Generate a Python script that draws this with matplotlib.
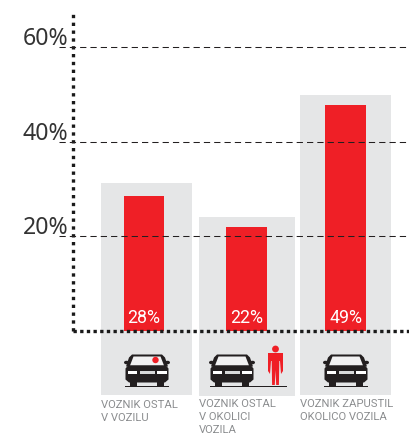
import matplotlib
matplotlib.use("Agg")
import matplotlib.pyplot as plt
from matplotlib.patches import Polygon, Rectangle, Circle, Ellipse

W, H = 409, 436

# values
categories = ["VOZNIK OSTAL\nV VOZILU", "VOZNIK OSTAL\nV OKOLICI\nVOZILA", "VOZNIK ZAPUSTIL\nOKOLICO VOZILA"]
bar_heights = [28.5, 22.0, 47.8]
bar_labels = ["28%", "22%", "49%"]
tick_values = [20, 40, 60]
tick_labels = ["20%", "40%", "60%"]

# pixel layout
bar_centers = [144, 246.5, 345.5]
bar_widths = [40, 41, 41]
panel_x = [(101, 192), (199, 295), (300, 391)]
panel_y = [(183, 395), (217, 396), (95, 395)]
label_x = [101, 199, 300]
label_y = [400, 399, 399]
car_x = [147, 232, 346]

RED = "#ef1f26"
GREY = "#e5e6e7"
DARK = "#231f20"
TEXT = "#8b8d8f"
PX_PER_PCT = 4.73


def draw_car(ax, cx, gy):
    # car icon, offsets in pixels from the ground point
    def poly(pts, color):
        ax.add_patch(Polygon([(cx + x, gy + y) for x, y in pts], closed=True, color=color, lw=0))

    def rect(x0, y0, x1, y1, color):
        ax.add_patch(Rectangle((cx + x0, gy + y0), x1 - x0, y1 - y0, color=color, lw=0))

    poly([(-15, -32), (15, -32), (18, -29), (21, -20), (-21, -20), (-18, -29)], DARK)
    poly([(-13.5, -30), (13.5, -30), (17, -21), (-17, -21)], "#f1f1f2")
    ax.add_patch(Ellipse((cx - 20.5, gy - 24), 5, 3.5, color=DARK, lw=0))
    ax.add_patch(Ellipse((cx + 20.5, gy - 24), 5, 3.5, color=DARK, lw=0))
    poly([(-19, -21), (19, -21), (21.5, -18), (21.5, -7), (18, -4), (-18, -4), (-21.5, -7), (-21.5, -18)], DARK)
    rect(-19.5, -15.5, -10, -12.5, "white")
    rect(10, -15.5, 19.5, -12.5, "white")
    rect(-7.5, -15.5, 7.5, -12.5, "#d8d9da")
    rect(-4, -14, 4, -13.2, DARK)
    rect(-17, -5, -10, 0, DARK)
    rect(10, -5, 17, 0, DARK)


def draw_person(ax, cx, gy):
    ax.add_patch(Circle((cx, gy - 37), 3.4, color=RED, lw=0))
    body = [(-7.5, -33), (7.5, -33), (7.5, -15), (5.5, -12), (4.5, -25), (3.8, -25), (3.4, -1), (0.7, -1),
            (0, -16), (-0.7, -1), (-3.4, -1), (-3.8, -25), (-4.5, -25), (-5.5, -12), (-7.5, -15)]
    ax.add_patch(Polygon([(cx + x, gy + y) for x, y in body], closed=True, color=RED, lw=0))


fig = plt.figure(figsize=(W / 100, H / 100), dpi=100)

# pixel overlay for the grey panels, icons and category labels
px = fig.add_axes([0, 0, 1, 1], zorder=1)
px.set_xlim(0, W)
px.set_ylim(H, 0)
px.axis("off")

for (x0, x1), (y0, y1) in zip(panel_x, panel_y):
    px.add_patch(Rectangle((x0, y0), x1 - x0, y1 - y0, color=GREY, lw=0))

for cat, x, y in zip(categories, label_x, label_y):
    px.text(x, y, cat, fontsize=8.1, family="Roboto", color=TEXT, ha="left", va="top", linespacing=1.36)

for cx in car_x:
    draw_car(px, cx, 386.5)
px.add_patch(Circle((155.5, 360), 3.2, color=RED, lw=0))
px.add_patch(Rectangle((125, 385.5), 44, 1.5, color=DARK, lw=0))
px.add_patch(Rectangle((210, 385.5), 77, 1.5, color=DARK, lw=0))
px.add_patch(Rectangle((324, 385.5), 44, 1.5, color=DARK, lw=0))
draw_person(px, 275.5, 386)

# main chart, x in pixels, y in percent
left, right, bottom, top = 73, W, 331, 10
ax = fig.add_axes([left / W, 1 - bottom / H, (right - left) / W, (bottom - top) / H], zorder=2)
ax.patch.set_visible(False)
ax.set_xlim(left, right)
ax.set_ylim(0, (bottom - top) / PX_PER_PCT)

ax.bar(bar_centers, bar_heights, width=bar_widths, color=RED, zorder=2)
for x, lab in zip(bar_centers, bar_labels):
    ax.text(x, 0.8, lab, color="white", fontsize=12.8, family="Roboto", ha="center", va="bottom", zorder=3)

ax.hlines(tick_values, 59, W, color=DARK, lw=0.75, linestyles=[(0, (6, 3.9))], clip_on=False, zorder=4)

ax.set_xticks([])
ax.set_yticks(tick_values, [])
ax.tick_params(axis="y", length=0)
# percent labels sit just above their gridline
for v, lab in zip(tick_values, tick_labels):
    ax.text(68.5, v + 0.45, lab, fontsize=16.6, family="Noto Sans", color="#333333", ha="right", va="baseline",
            clip_on=False)

for s in ["top", "right"]:
    ax.spines[s].set_visible(False)
ax.spines["left"].set_linewidth(2.4)
ax.spines["left"].set_linestyle((0, (1, 1.35)))
ax.spines["left"].set_capstyle("butt")
ax.spines["bottom"].set_linewidth(2.4)
ax.spines["bottom"].set_linestyle((0, (1, 1.0)))
ax.spines["bottom"].set_capstyle("butt")
ax.spines["left"].set_color("#1a1a1a")
ax.spines["bottom"].set_color("#1a1a1a")
ax.spines["bottom"].set_zorder(5)

fig.savefig("out.png", dpi=100)
